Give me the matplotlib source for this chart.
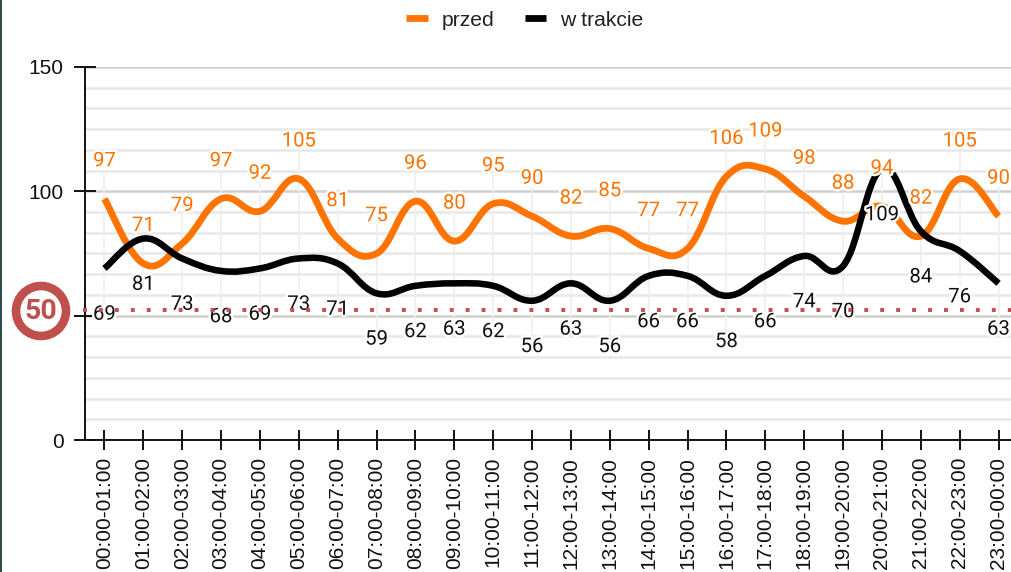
import matplotlib
matplotlib.use("Agg")
import matplotlib.pyplot as plt
import matplotlib.patheffects as pe
from matplotlib.lines import Line2D
from matplotlib.path import Path
from matplotlib.patches import PathPatch, Circle, Rectangle
import numpy as np

hours = ["00:00-01:00","01:00-02:00","02:00-03:00","03:00-04:00","04:00-05:00","05:00-06:00",
         "06:00-07:00","07:00-08:00","08:00-09:00","09:00-10:00","10:00-11:00","11:00-12:00",
         "12:00-13:00","13:00-14:00","14:00-15:00","15:00-16:00","16:00-17:00","17:00-18:00",
         "18:00-19:00","19:00-20:00","20:00-21:00","21:00-22:00","22:00-23:00","23:00-00:00"]
przed = [97,71,79,97,92,105,81,75,96,80,95,90,82,85,77,77,106,109,98,88,94,82,105,90]
w_trakcie = [69,81,73,68,69,73,71,59,62,63,62,56,63,56,66,66,58,66,74,70,109,84,76,63]
limit_value = 52.2
limit_badge = "50"

ORANGE = "#ff7300"
RED = "#c0504d"

plt.rcParams["font.family"] = ["Liberation Sans", "DejaVu Sans"]
fig = plt.figure(figsize=(10.11, 5.72), dpi=100)
W, H = 1011, 572
ax = fig.add_axes([85/W, (H-440)/H, (W-85)/W, (440-67)/H])
ax.set_xlim(-0.5, 23.32)
ax.set_ylim(0, 150)
ax.patch.set_visible(False)
for s in ("top", "right"):
    ax.spines[s].set_visible(False)
for s in ("left", "bottom"):
    ax.spines[s].set_linewidth(1.4)
    ax.spines[s].set_color("#111111")

ax.set_yticks([0, 50, 100, 150])
ax.set_yticklabels(["0", "", "100", "150"], fontsize=15, color="#111111")
ax.set_yticks([v*50/6 for v in range(1, 18) if v % 6], minor=True)
ax.tick_params(axis="y", which="major", direction="inout", length=16, width=1.4, pad=7.5, color="#111111")
ax.tick_params(axis="y", which="minor", length=0)
ax.grid(axis="y", which="major", color="#d0d0d0", lw=1.8, zorder=0)
ax.grid(axis="y", which="minor", color="#e8e8e8", lw=1.8, zorder=0)
ax.set_axisbelow(True)

x = np.arange(len(hours))
ax.set_xticks(x)
ax.set_xticklabels(hours, rotation=90, fontsize=15.0, color="#111111", va="top", ha="center")
ax.tick_params(axis="x", direction="inout", length=14.4, width=1.4, pad=5, color="#111111")


def smooth_path(xs, ys, k=0.2):
    xs = np.asarray(xs, float)
    ys = np.asarray(ys, float)
    n = len(xs)
    verts = [(xs[0], ys[0])]
    codes = [Path.MOVETO]
    for i in range(n - 1):
        a, b = max(i - 1, 0), min(i + 2, n - 1)
        verts += [(xs[i] + k*(xs[i+1]-xs[a]), ys[i] + k*(ys[i+1]-ys[a])),
                  (xs[i+1] - k*(xs[b]-xs[i]), ys[i+1] - k*(ys[b]-ys[i])),
                  (xs[i+1], ys[i+1])]
        codes += [Path.CURVE4]*3
    return Path(verts, codes)


# high-low connectors between the two label rows
ax.vlines(x, np.array(w_trakcie) - 14.5, np.array(przed) + 11.7, color="#efefef", lw=1.2, zorder=1)

ax.add_patch(PathPatch(smooth_path(x, przed), fc="none", ec=ORANGE, lw=4.9, capstyle="butt", zorder=3))
ax.add_patch(PathPatch(smooth_path(x, w_trakcie), fc="none", ec="black", lw=4.7, capstyle="butt", zorder=3.1))

halo = [pe.withStroke(linewidth=3.5, foreground="white")]
for xi, p, b in zip(x, przed, w_trakcie):
    ax.annotate(str(p), (xi, p), xytext=(0, 27.3), textcoords="offset points", ha="center", va="center",
                fontsize=14.6, family="Roboto", color=ORANGE, path_effects=halo, zorder=4)
    ax.annotate(str(b), (xi, b), xytext=(0, -33), textcoords="offset points", ha="center", va="center",
                fontsize=14.6, family="Roboto", color="#111111", path_effects=halo, zorder=4)

ax.plot([-0.55, 23.32], [limit_value, limit_value], color=RED, lw=2.8, clip_on=False,
        linestyle=(0, (1, 3.1)), dash_capstyle="butt", zorder=5)

# speed-limit style badge (pixel coordinates on the figure)
overlay = fig.add_axes([0, 0, 1, 1])
overlay.set_xlim(0, W)
overlay.set_ylim(H, 0)
overlay.axis("off")
overlay.add_patch(Rectangle((0, 0), 2.2, H, fc="#2f4f4f", ec="none"))
overlay.add_patch(Circle((41, 311), 25, fc="white", ec=RED, lw=6.2))
overlay.text(41, 311.5, limit_badge, ha="center", va="center", color=RED, fontsize=20.5,
             fontweight="bold", family="Roboto")

handles = [Line2D([], [], color=ORANGE, lw=4.9, solid_capstyle="butt"),
           Line2D([], [], color="black", lw=4.9, solid_capstyle="butt")]
leg = fig.legend(handles, ["przed", "w trakcie"], loc="center", bbox_to_anchor=(525/W, (H-20)/H),
                 ncol=2, frameon=False, fontsize=15.2, handlelength=1.0, handletextpad=0.66,
                 columnspacing=1.47, labelcolor="#222222", borderpad=0, borderaxespad=0)

fig.savefig("out.png", dpi=100)
